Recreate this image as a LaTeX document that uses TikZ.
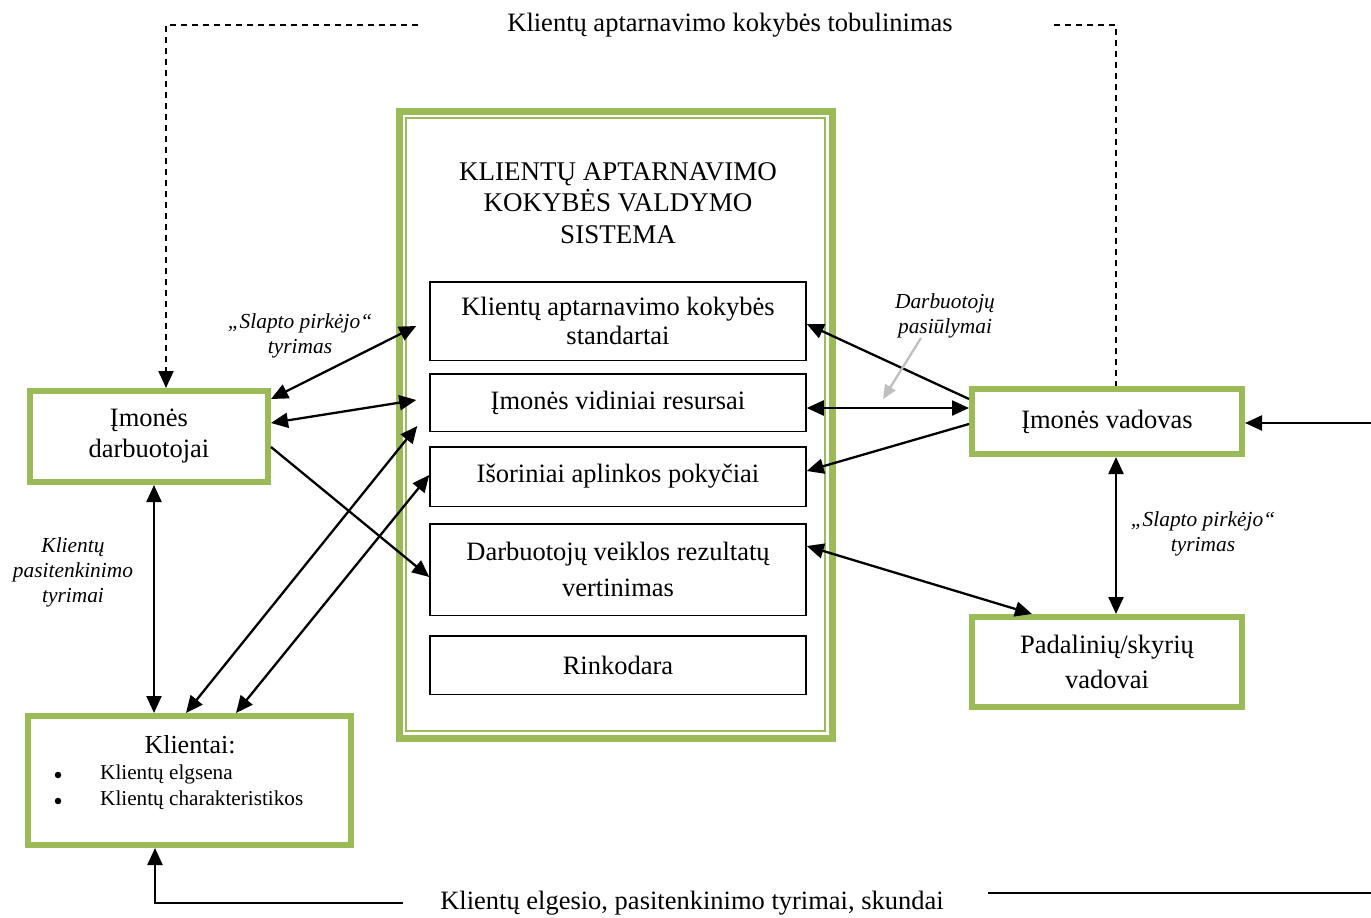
\documentclass[tikz,border=0pt]{standalone}
\usepackage{fontspec}
\setmainfont{Liberation Serif}
\usetikzlibrary{arrows.meta,calc}
\definecolor{grn}{HTML}{9BBB59}
\definecolor{gry}{HTML}{BFBFBF}
\begin{document}
\begin{tikzpicture}[x=1pt,y=-1pt,
  gbox/.style={draw=grn, line width=6pt, inner sep=0pt, align=center, font=\fontsize{26.5}{31}\selectfont},
  ibox/.style={draw=black, line width=1.5pt, minimum width=376pt, inner sep=0pt, align=center, font=\fontsize{26.5}{29}\selectfont},
  tip/.tip={Triangle[length=17pt,width=15pt]},
  arr/.style={line width=2.3pt, -tip},
  darr/.style={line width=2.3pt, tip-tip},
  lbl/.style={font=\fontsize{21.4}{25}\selectfont\itshape, align=center, inner sep=0pt},
  plain/.style={font=\fontsize{26.5}{29}\selectfont, inner sep=0pt},
  dsh/.style={line width=2pt, dash pattern=on 6pt off 5pt},
  small/.style={font=\fontsize{21.2}{24}\selectfont, inner sep=0pt},
  dot/.style={circle, fill=black, inner sep=0pt, minimum size=6.5pt}
]
\useasboundingbox (0,0) rectangle (1371,918);

% central frame
\node[draw=grn, line width=7pt, minimum width=433pt, minimum height=627pt, inner sep=0pt] (sysout) at (615.5,424.5) {};
\node[draw=grn, line width=2.5pt, minimum width=419pt, minimum height=613pt, inner sep=0pt] (sysin) at (615.5,424.5) {};
\node[align=center, inner sep=0pt, font=\fontsize{27}{31.5}\selectfont] (title) at (618,203)
  {KLIENTŲ APTARNAVIMO\\KOKYBĖS VALDYMO\\SISTEMA};

% inner boxes
\node[ibox, minimum height=78.5pt] (b1) at (618,321) {Klientų aptarnavimo kokybės\\standartai};
\node[ibox, minimum height=57.5pt] (b2) at (618,402.5) {Įmonės vidiniai resursai};
\node[ibox, minimum height=59.5pt] (b3) at (618,476.5) {Išoriniai aplinkos pokyčiai};
\node[ibox, minimum height=91.5pt] (b4) at (618,569.5) {Darbuotojų veiklos rezultatų\\[7pt]vertinimas};
\node[ibox, minimum height=58.5pt] (b5) at (618,665) {Rinkodara};

% green boxes
\node[gbox, minimum width=238pt, minimum height=91pt] (dar) at (149,436.5) {Įmonės\\darbuotojai};
\node[gbox, minimum width=323pt, minimum height=129pt] (kl) at (189.5,780.5) {};
\node[gbox, minimum width=270pt, minimum height=65pt] (vad) at (1107,421.5) {Įmonės vadovas};
\node[gbox, minimum width=270pt, minimum height=90pt] (pad) at (1107,662) {Padalinių/skyrių\\[4pt]vadovai};

% Klientai content
\node[inner sep=0pt, font=\fontsize{26}{30}\selectfont] (kt) at (190,745) {Klientai:};
\node[dot] (kb1) at (58,775) {};
\node[small, anchor=west] (k1) at (100,774) {Klientų elgsena};
\node[dot] (kb2) at (58,801) {};
\node[small, anchor=west] (k2) at (100,800) {Klientų charakteristikos};

% top dashed feedback
\node[plain] (top) at (730,25) {Klientų aptarnavimo kokybės tobulinimas};
\coordinate (tl) at (418,25);
\coordinate (tr) at (1054,25);
\draw[dsh, -tip] (tl) -- (166,25) -- (dar.north -| 166,0);
\draw[dsh] (tr) -- (1116,25) -- (vad.north -| 1116,0);

% bottom line
\node[plain] (bot) at (692,903) {Klientų elgesio, pasitenkinimo tyrimai, skundai};
\coordinate (bl) at (403,903);
\coordinate (br1) at (988,893);
\coordinate (br2) at (1371,893);
\draw[arr] (bl) -- (155,903) -- (kl.south -| 155,0);
\draw[line width=2pt] (br1) -- (br2);

% right input
\coordinate (rin) at (1371,423);
\draw[arr] (rin) -- (vad.east |- 0,423);

% vertical connectors
\draw[darr] (vad.south -| 1116,0) -- (pad.north -| 1116,0);
\draw[darr] (dar.south -| 154,0) -- (kl.north -| 154,0);

% left side connectors
\draw[darr] (dar.east |- 0,399) -- ($(b1.west |- 0,326)+(-13,0)$);
\draw[darr] (dar.east |- 0,423) -- ($(b2.west |- 0,400)+(-13,0)$);
\draw[arr] (dar.east |- 0,447) -- (b4.west |- 0,577);
\draw[darr] (kl.north -| 186,0) -- ($(b2.west |- 0,426)+(-12,0)$);
\draw[darr] (kl.north -| 236,0) -- (b3.west |- 0,475);

% right side connectors
\draw[arr] (vad.west |- 0,399) -- (b1.east |- 0,324);
\draw[darr] (b2.east |- 0,408) -- (vad.west |- 0,408);
\draw[arr] (vad.west |- 0,424) -- (b3.east |- 0,471);
\draw[darr] (b4.east |- 0,546) -- (pad.north -| 1032,0);

% labels
\node[lbl] (lp) at (945,316) {Darbuotojų\\pasiūlymai};
\draw[gry, line width=2.3pt, -{Triangle[length=14pt,width=12pt]}] ($(lp)+(-24,22)$) -- ($(lp)+(-62,83)$);
\node[lbl] (ls1) at (300,335.5) {„Slapto pirkėjo“\\tyrimas};
\node[lbl] (ls2) at (1203,533.5) {„Slapto pirkėjo“\\tyrimas};
\node[lbl] (lk) at (73,572) {Klientų\\pasitenkinimo\\tyrimai};
\end{tikzpicture}
\end{document}
